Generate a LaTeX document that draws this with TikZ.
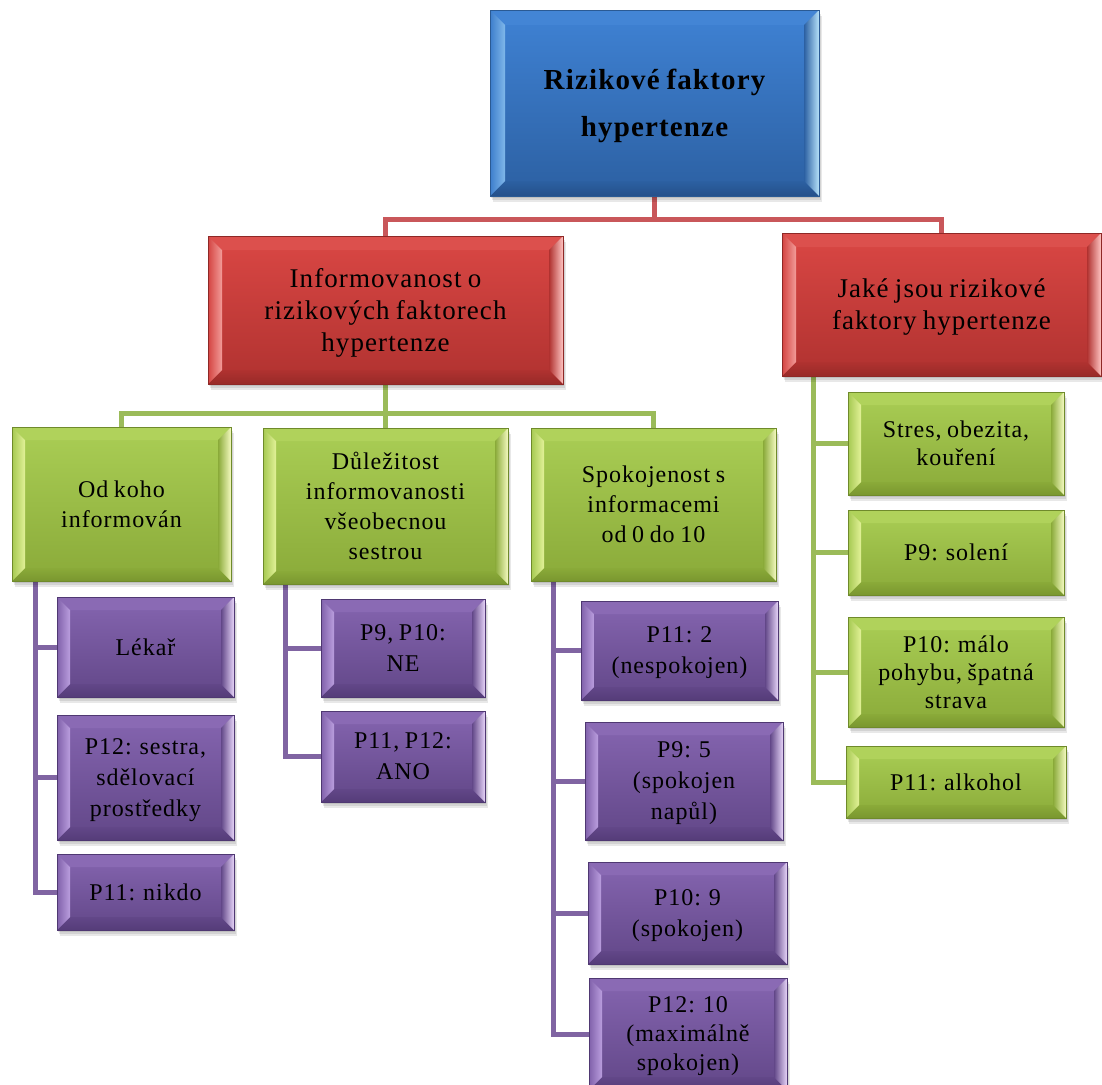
\documentclass[tikz,border=0pt]{standalone}
\usepackage{fontspec}
\setmainfont{Liberation Serif}[LetterSpace=4, WordSpace=0.8]
\usetikzlibrary{calc}

\pgfdeclarelayer{links}
\pgfdeclarelayer{boxes}
\pgfsetlayers{links,boxes,main}

% colour families: A/B face top/bottom, T top bevel, L left bevel,
% H right bevel highlight, D bottom bevel, E outline
\definecolor{blueA}{HTML}{3F82D4}
\definecolor{blueB}{HTML}{2C60A2}
\definecolor{blueT}{HTML}{4385D5}
\definecolor{blueL}{HTML}{80B8EA}
\definecolor{blueH}{HTML}{B6E2FA}
\definecolor{blueD}{HTML}{24508A}
\definecolor{blueE}{HTML}{2A5A94}

\definecolor{redA}{HTML}{DA4744}
\definecolor{redB}{HTML}{B03230}
\definecolor{redT}{HTML}{DC504D}
\definecolor{redL}{HTML}{F29C99}
\definecolor{redH}{HTML}{FFC4C2}
\definecolor{redD}{HTML}{982A28}
\definecolor{redE}{HTML}{8E2826}

\definecolor{greenA}{HTML}{AACE55}
\definecolor{greenB}{HTML}{8AAA39}
\definecolor{greenT}{HTML}{B0D25B}
\definecolor{greenL}{HTML}{E2F198}
\definecolor{greenH}{HTML}{F4FAC0}
\definecolor{greenD}{HTML}{7A972F}
\definecolor{greenE}{HTML}{6F8A2B}

\definecolor{purpA}{HTML}{8565B0}
\definecolor{purpB}{HTML}{624788}
\definecolor{purpT}{HTML}{8A6AB4}
\definecolor{purpL}{HTML}{BA9EDE}
\definecolor{purpH}{HTML}{E6D4F8}
\definecolor{purpD}{HTML}{553C79}
\definecolor{purpE}{HTML}{4F3872}

\definecolor{redLine}{HTML}{C9575A}
\definecolor{greenLine}{HTML}{9BBB59}
\definecolor{purpLine}{HTML}{8064A2}

% bevelled panel behind a node: #1 bevel width, #2 node, #3 colour family
\newcommand\paintbox[3][13]{%
  \begin{pgfonlayer}{boxes}
  \begin{scope}
    \clip (0,0) rectangle (1102,-1084);
    \foreach \s in {2,4,6}
      \fill[black,opacity=0.09] ($(#2.south west)+(0.5*\s,-\s)$) rectangle ($(#2.north east)+(0.5*\s,-\s)$);
    \shade[top color=#3A, bottom color=#3B] (#2.south west) rectangle (#2.north east);
    \fill[#3T] (#2.north west) -- (#2.north east) -- ($(#2.north east)+(-#1,-#1)$) -- ($(#2.north west)+(#1,-#1)$) -- cycle;
    \shade[top color=#3B, bottom color=#3D] (#2.south west) -- (#2.south east) -- ($(#2.south east)+(-#1,#1)$) -- ($(#2.south west)+(#1,#1)$) -- cycle;
    \shade[left color=#3A!85!#3B, right color=#3L] (#2.south west) -- (#2.north west) -- ($(#2.north west)+(#1,-#1)$) -- ($(#2.south west)+(#1,#1)$) -- cycle;
    \shade[left color=#3B, right color=#3H] (#2.south east) -- (#2.north east) -- ($(#2.north east)+(-#1,-#1)$) -- ($(#2.south east)+(-#1,#1)$) -- cycle;
    \draw[#3E, line width=0.8pt] (#2.south west) rectangle (#2.north east);
  \end{scope}
  \end{pgfonlayer}}

\tikzset{
  bx/.style={rectangle, inner sep=0pt, outer sep=0pt, align=center, text=black, text depth=0pt},
  sz/.style 2 args={minimum width=#1pt, minimum height=#2pt},
  lvtop/.style={font=\bfseries\fontsize{29}{47}\selectfont},
  lvred/.style={font=\fontsize{27}{32}\selectfont},
  lvgreen/.style={font=\fontsize{24}{30}\selectfont},
  lvpurp/.style={font=\fontsize{24}{31}\selectfont},
  lvside/.style={font=\fontsize{24}{28}\selectfont},
  link/.style={line width=5pt, line join=miter},
  redlink/.style={link, draw=redLine},
  greenlink/.style={link, draw=greenLine},
  purplink/.style={link, draw=purpLine},
}

\begin{document}
\begin{tikzpicture}[x=1pt, y=1pt]
\useasboundingbox (0,0) rectangle (1102,-1084);
\begin{pgfonlayer}{links}
  \fill[white] (0,0) rectangle (1102,-1084);
\end{pgfonlayer}

% root
\node[bx, lvtop, sz={329}{186}] (top) at (654.5,-103) {Rizikové faktory\\hypertenze};
\paintbox[15]{top}{blue}

% second level
\node[bx, lvred, sz={355}{148}] (rl) at (385.5,-310) {Informovanost o\\rizikových faktorech\\hypertenze};
\paintbox[14]{rl}{red}
\node[bx, lvred, sz={319}{143}] (rr) at (941.5,-304.5) {Jaké jsou rizikové\\faktory hypertenze};
\paintbox[14]{rr}{red}

% third level, left branch
\node[bx, lvgreen, sz={219}{154}] (g1) at (121.5,-504) {Od koho\\informován};
\paintbox{g1}{green}
\node[bx, lvgreen, sz={245}{156}] (g2) at (385.5,-506) {Důležitost\\informovanosti\\všeobecnou\\sestrou};
\paintbox{g2}{green}
\node[bx, lvgreen, sz={245}{153}] (g3) at (653.5,-504.5) {Spokojenost s\\informacemi\\od 0 do 10};
\paintbox{g3}{green}

% third level, right branch
\node[bx, lvside, sz={216}{103}] (r1) at (956,-443.5) {Stres, obezita,\\kouření};
\paintbox{r1}{green}
\node[bx, lvside, sz={216}{85}] (r2) at (956,-552.5) {P9: solení};
\paintbox{r2}{green}
\node[bx, lvside, sz={216}{110}] (r3) at (956,-672) {P10: málo\\pohybu, špatná\\strava};
\paintbox{r3}{green}
\node[bx, lvside, sz={220}{72}] (r4) at (956,-782) {P11: alkohol};
\paintbox{r4}{green}

% fourth level
\node[bx, lvpurp, sz={177}{100}] (p11) at (145.5,-647) {Lékař};
\paintbox{p11}{purp}
\node[bx, lvpurp, sz={177}{125}] (p12) at (145.5,-777.5) {P12: sestra,\\sdělovací\\prostředky};
\paintbox{p12}{purp}
\node[bx, lvpurp, sz={177}{76}] (p13) at (145.5,-892) {P11: nikdo};
\paintbox{p13}{purp}

\node[bx, lvpurp, sz={164}{98}] (p21) at (403,-648) {P9, P10:\\NE};
\paintbox{p21}{purp}
\node[bx, lvpurp, sz={164}{91}] (p22) at (403,-756.5) {P11, P12:\\ANO};
\paintbox{p22}{purp}

\node[bx, lvpurp, sz={197}{99}] (p31) at (679.5,-650.5) {P11: 2\\(nespokojen)};
\paintbox{p31}{purp}
\node[bx, lvpurp, sz={198}{118}] (p32) at (684,-781) {P9: 5\\(spokojen\\napůl)};
\paintbox{p32}{purp}
\node[bx, lvpurp, sz={199}{102}] (p33) at (687.5,-913) {P10: 9\\(spokojen)};
\paintbox{p33}{purp}
\node[bx, lvpurp, sz={198}{112}, font=\fontsize{24}{29}\selectfont] (p34) at (688,-1034) {P12: 10\\(maximálně\\spokojen)};
\paintbox{p34}{purp}

% connectors
\begin{pgfonlayer}{links}
  \draw[redlink] (top.south) -- ++(0,-23) -| (rl.north);
  \draw[redlink] (top.south) -- ++(0,-23) -| (rr.north);

  \draw[greenlink] (rl.south) -- ++(0,-29) -| (g1.north);
  \draw[greenlink] (rl.south) -- ++(0,-29) -| (g3.north);
  \draw[greenlink] (rl.south) -- (g2.north);

  \coordinate (rrj) at ($(rr.south west)+(31,0)$);
  \draw[greenlink] (rrj) |- (r1.west);
  \draw[greenlink] (rrj) |- (r2.west);
  \draw[greenlink] (rrj) |- (r3.west);
  \draw[greenlink] (rrj) |- (r4.west);

  \coordinate (g1j) at ($(g1.south west)+(23,0)$);
  \draw[purplink] (g1j) |- (p11.west);
  \draw[purplink] (g1j) |- (p12.west);
  \draw[purplink] (g1j) |- (p13.west);

  \coordinate (g2j) at ($(g2.south west)+(22,0)$);
  \draw[purplink] (g2j) |- (p21.west);
  \draw[purplink] (g2j) |- (p22.west);

  \coordinate (g3j) at ($(g3.south west)+(22,0)$);
  \draw[purplink] (g3j) |- (p31.west);
  \draw[purplink] (g3j) |- (p32.west);
  \draw[purplink] (g3j) |- (p33.west);
  \draw[purplink] (g3j) |- (p34.west);
\end{pgfonlayer}
\end{tikzpicture}
\end{document}
